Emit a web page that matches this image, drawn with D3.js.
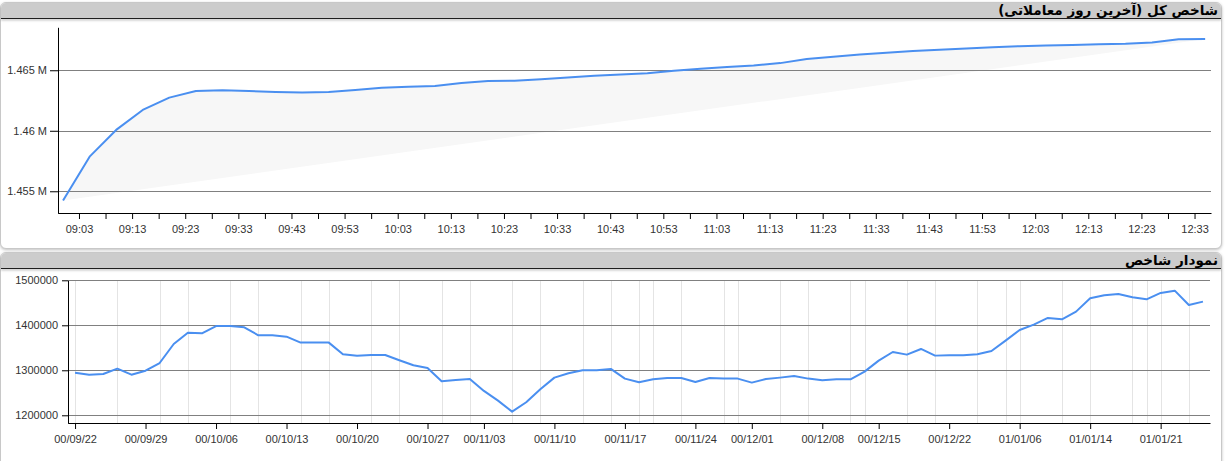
<!DOCTYPE html>
<html>
<head>
<meta charset="utf-8">
<script src="https://cdn.jsdelivr.net/npm/d3@7"></script>
<style>
  html, body { margin: 0; padding: 0; background: #ffffff; }
  #wrap { position: relative; width: 1228px; height: 461px; overflow: hidden; background: #fff; }
  .panel { position: absolute; left: 0; width: 1220px; background: #fff; border: 1px solid #c8c8c8;
           border-radius: 6px; box-shadow: 0 1px 3px rgba(0,0,0,0.25); }
  .head { position: absolute; left: 0; right: 0; top: 0; height: 15px; background: #cccccc;
          border-bottom: 1px solid #1e1e1e; border-radius: 5px 5px 0 0;
          box-shadow: 0 2px 2px rgba(0,0,0,0.15);
          font-family: "DejaVu Sans", sans-serif; font-weight: bold; font-size: 13.5px; line-height: 15px;
          color: #000; text-align: right; padding-right: 3px; white-space: nowrap; overflow: visible; }
  svg { position: absolute; left: 0; top: 0; }
  .tick text { font-family: "Liberation Sans", Arial, sans-serif; font-size: 11px; fill: #333; }
</style>
</head>
<body>
<div id="wrap">
  <div class="panel" style="top:2px;height:245px;"><div class="head" dir="rtl">شاخص کل (آخرین روز معاملاتی)</div></div>
  <div class="panel" style="top:252px;height:230px;"><div class="head" dir="rtl">نمودار شاخص</div></div>
  <svg id="chart" width="1228" height="461"></svg>
</div>
<script>
// ---------- Top chart data (intraday index, last trading day) ----------
const topTimes = ["09:00","09:05","09:10","09:15","09:20","09:25","09:30","09:35","09:40","09:45",
  "09:50","09:55","10:00","10:05","10:10","10:15","10:20","10:25","10:30","10:35",
  "10:40","10:45","10:50","10:55","11:00","11:05","11:10","11:15","11:20","11:25",
  "11:30","11:35","11:40","11:45","11:50","11:55","12:00","12:05","12:10","12:15",
  "12:20","12:25","12:30","12:35"];
const topValues = [1454230,1457860,1460070,1461720,1462740,1463290,1463350,1463290,1463210,1463170,
  1463210,1463370,1463550,1463640,1463690,1463950,1464120,1464140,1464260,1464400,
  1464550,1464650,1464750,1464960,1465120,1465270,1465400,1465590,1465930,1466110,
  1466300,1466450,1466590,1466700,1466800,1466910,1466990,1467040,1467090,1467140,
  1467190,1467300,1467570,1467590];
const topYTicks = [1455000, 1460000, 1465000];
const topYLabels = ["1.455 M", "1.46 M", "1.465 M"];
const topXLabels = ["09:03","09:13","09:23","09:33","09:43","09:53","10:03","10:13","10:23","10:33",
  "10:43","10:53","11:03","11:13","11:23","11:33","11:43","11:53","12:03","12:13","12:23","12:33"];

// ---------- Bottom chart data (daily index) ----------
const dailyValues = [1294700,1290200,1291800,1303600,1290200,1299000,1316200,1358400,1383600,1382200,
  1398400,1398400,1395600,1377800,1377800,1374800,1361500,1361500,1361500,1335600,
  1332200,1334000,1334000,1322200,1311100,1305100,1275600,1278500,1280700,1254100,
  1232600,1208100,1228900,1257800,1283700,1293300,1300000,1300000,1303000,1281500,
  1273300,1280000,1283000,1283000,1274100,1283000,1281500,1281500,1272600,1280700,
  1283700,1287400,1281500,1277800,1280000,1280000,1297000,1321500,1340700,1334800,
  1347400,1332600,1333700,1333300,1335600,1343000,1365900,1389600,1401500,1416300,
  1413300,1430400,1460000,1466700,1469600,1462200,1457800,1471900,1477000,1445200,
  1452600];
const dateTickIndex = [0,5,10,15,20,25,29,34,39,44,48,53,57,62,67,72,77];
const dateTickLabels = ["00/09/22","00/09/29","00/10/06","00/10/13","00/10/20","00/10/27","00/11/03",
  "00/11/10","00/11/17","00/11/24","00/12/01","00/12/08","00/12/15","00/12/22","01/01/06","01/01/14","01/01/21"];
const dateGridIndex = [0,3,6,8,11,13,16,18,21,23,26,28,31,33,36,38,40,41,43,46,47,50,52,55,56,59,61,
  64,66,67,70,72,75,76,77,79];
const dailyYTicks = [1200000, 1300000, 1400000, 1500000];

const LINE = "#4a8ff0";
const GRID = "#808080";
const svg = d3.select("#chart");

// ================= TOP CHART =================
const parseT = d3.timeParse("%H:%M");
const tData = topTimes.map((t, i) => ({ t: parseT(t), v: topValues[i] }));
const tX = d3.scaleTime()
  .domain([d3.timeSecond.offset(parseT("09:03"), -237), d3.timeSecond.offset(parseT("12:33"), 186)])
  .range([58, 1211]);
const tY = d3.scaleLinear().domain([1453180, 1468550]).range([213.3, 27.3]);

const gTop = svg.append("g");
const topLine = d3.line().x(d => tX(d.t)).y(d => tY(d.v));
// shaded area: path closed straight back to first point
gTop.append("path").attr("d", topLine(tData) + "Z").attr("fill", "#f7f7f7").attr("stroke", "none");
// gridlines
gTop.append("g").selectAll("line").data(topYTicks).join("line")
  .attr("x1", 58).attr("x2", 1211)
  .attr("y1", d => Math.round(tY(d)) + 0.5).attr("y2", d => Math.round(tY(d)) + 0.5)
  .attr("stroke", GRID).attr("stroke-width", 1);
// axes
const topTickTimes = [];
topXLabels.forEach(l => { const t = parseT(l); topTickTimes.push(t, d3.timeMinute.offset(t, 5)); });
const topTickVals = topTickTimes.filter(t => tX(t) <= 1211);
const labelSet = new Set(topXLabels);
gTop.append("g").attr("transform", "translate(0,213)")
  .call(d3.axisBottom(tX).tickValues(topTickVals).tickSize(6).tickSizeOuter(0).tickPadding(6)
    .tickFormat(d => { const s = d3.timeFormat("%H:%M")(d); return labelSet.has(s) ? s : ""; }))
  .call(g => g.selectAll("path,line").attr("stroke", "#000"));
gTop.append("g").attr("transform", "translate(58,0)")
  .call(d3.axisLeft(tY).tickValues(topYTicks).tickSize(8).tickSizeOuter(0).tickPadding(3)
    .tickFormat((d, i) => topYLabels[i]))
  .call(g => g.selectAll("path,line").attr("stroke", "#000"));
gTop.append("path").attr("d", topLine(tData)).attr("fill", "none")
  .attr("stroke", LINE).attr("stroke-width", 2).attr("stroke-linejoin", "round");

// ================= BOTTOM CHART =================
const bX = d3.scaleLinear().domain([-0.5, 80.5]).range([68, 1210]);
const bY = d3.scaleLinear().domain([1182200, 1500000]).range([423.3, 280.3]);
const gBot = svg.append("g");
gBot.append("g").selectAll("line").data(dateGridIndex).join("line")
  .attr("x1", d => Math.round(bX(d)) + 0.5).attr("x2", d => Math.round(bX(d)) + 0.5)
  .attr("y1", 280).attr("y2", 423).attr("stroke", "#e4e4e4").attr("stroke-width", 1);
gBot.append("g").selectAll("line").data(dailyYTicks).join("line")
  .attr("x1", 68).attr("x2", 1210)
  .attr("y1", d => Math.round(bY(d)) + 0.5).attr("y2", d => Math.round(bY(d)) + 0.5)
  .attr("stroke", GRID).attr("stroke-width", 1);
gBot.append("g").attr("transform", "translate(0,423)")
  .call(d3.axisBottom(bX).tickValues(dateTickIndex).tickSize(6).tickSizeOuter(0).tickPadding(6)
    .tickFormat((d, i) => dateTickLabels[i]))
  .call(g => g.selectAll("path,line").attr("stroke", "#000"));
gBot.append("g").attr("transform", "translate(68,0)")
  .call(d3.axisLeft(bY).tickValues(dailyYTicks).tickSize(6).tickSizeOuter(0).tickPadding(4)
    .tickFormat(d3.format("d")))
  .call(g => g.selectAll("path,line").attr("stroke", "#000"));
gBot.append("path")
  .attr("d", d3.line().x((d, i) => bX(i)).y(d => bY(d))(dailyValues))
  .attr("fill", "none").attr("stroke", LINE).attr("stroke-width", 2).attr("stroke-linejoin", "round");
</script>
</body>
</html>
